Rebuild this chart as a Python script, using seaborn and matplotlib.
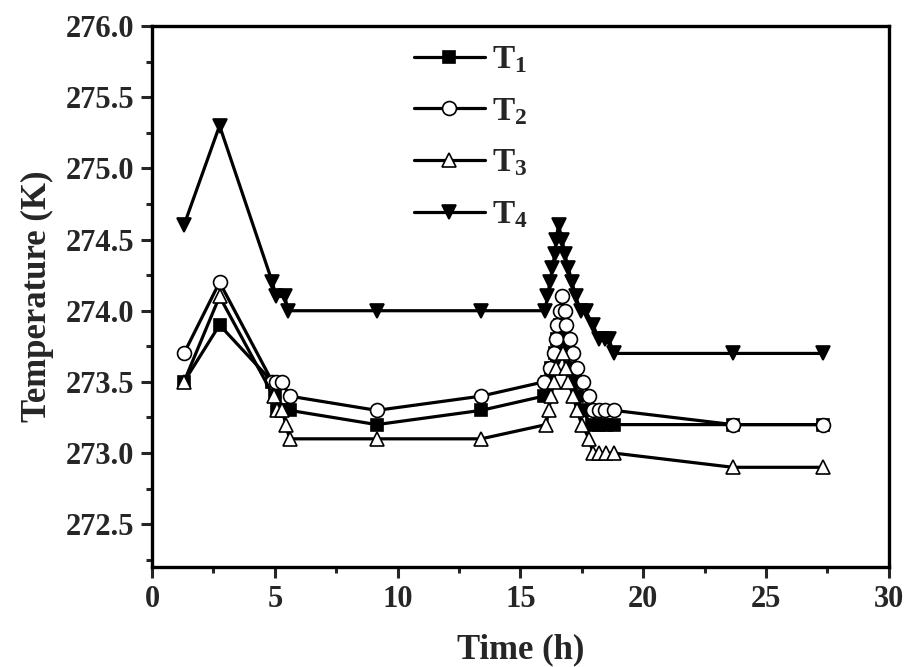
import numpy as np
import pandas as pd
import matplotlib
matplotlib.use("Agg")
import matplotlib.pyplot as plt
from matplotlib.ticker import MultipleLocator, FormatStrFormatter
import seaborn as sns

# values (time in h, temperature in K)
t1_time = [1.3, 2.75, 4.9, 5.0, 5.1, 5.3, 5.6, 9.15, 13.4, 15.95,
           16.1, 16.25, 16.4, 16.5, 16.6, 16.75, 16.9, 17.05, 17.2, 17.3,
           17.5, 17.9, 18.2, 18.5, 18.8, 23.65, 27.3]
t1_temp = [273.5, 273.9, 273.5, 273.4, 273.3, 273.3, 273.3, 273.2, 273.3, 273.4,
           273.5, 273.6, 273.7, 273.8, 273.9, 273.8, 273.7, 273.6, 273.5, 273.4,
           273.3, 273.2, 273.2, 273.2, 273.2, 273.2, 273.2]

t2_time = [1.3, 2.75, 4.9, 5.05, 5.3, 5.6, 9.15, 13.4, 15.95,
           16.2, 16.35, 16.45, 16.5, 16.6, 16.7, 16.8, 16.85, 17.0, 17.15,
           17.3, 17.55, 17.8, 17.95, 18.2, 18.45, 18.8, 23.65, 27.3]
t2_temp = [273.7, 274.2, 273.5, 273.5, 273.5, 273.4, 273.3, 273.4, 273.5,
           273.6, 273.7, 273.8, 273.9, 274.0, 274.1, 274.0, 273.9, 273.8, 273.7,
           273.6, 273.5, 273.4, 273.3, 273.3, 273.3, 273.3, 273.2, 273.2]

t3_time = [1.3, 2.75, 4.95, 5.1, 5.3, 5.45, 5.6, 9.15, 13.4, 16.05,
           16.15, 16.25, 16.35, 16.45, 16.75, 16.85, 16.95, 17.15, 17.3,
           17.5, 17.8, 17.95, 18.2, 18.5, 18.8, 23.65, 27.3]
t3_temp = [273.5, 274.1, 273.4, 273.3, 273.3, 273.2, 273.1, 273.1, 273.1, 273.2,
           273.3, 273.4, 273.5, 273.6, 273.7, 273.6, 273.5, 273.4, 273.3,
           273.2, 273.1, 273.0, 273.0, 273.0, 273.0, 272.9, 272.9]

t4_time = [1.3, 2.75, 4.9, 5.05, 5.4, 5.55, 9.15, 13.4, 16.0,
           16.1, 16.2, 16.3, 16.4, 16.45, 16.55, 16.7, 16.8, 16.95, 17.1,
           17.25, 17.45, 17.65, 17.95, 18.2, 18.45, 18.6, 18.8, 23.65, 27.3]
t4_temp = [274.6, 275.3, 274.2, 274.1, 274.1, 274.0, 274.0, 274.0, 274.0,
           274.1, 274.2, 274.3, 274.4, 274.5, 274.6, 274.5, 274.4, 274.3, 274.2,
           274.1, 274.0, 274.0, 273.9, 273.8, 273.8, 273.8, 273.7, 273.7, 273.7]

series_names = ["T1", "T2", "T3", "T4"]
legend_labels = [r"$\mathbf{T_1}$", r"$\mathbf{T_2}$", r"$\mathbf{T_3}$", r"$\mathbf{T_4}$"]

sns.set_style("ticks")
plt.rcParams["font.family"] = ["Liberation Serif", "DejaVu Serif"]
plt.rcParams["font.weight"] = "bold"
plt.rcParams["mathtext.fontset"] = "custom"
plt.rcParams["mathtext.rm"] = "Liberation Serif"
plt.rcParams["mathtext.bf"] = "Liberation Serif:bold"

frames = []
for name, tt, yy in zip(series_names,
                        [t1_time, t2_time, t3_time, t4_time],
                        [t1_temp, t2_temp, t3_temp, t4_temp]):
    frames.append(pd.DataFrame({"time": tt, "temp": yy, "series": name}))
df = pd.concat(frames, ignore_index=True)

styles = {
    "T1": dict(marker="s", markerfacecolor="black", markersize=8),
    "T2": dict(marker="o", markerfacecolor="white", markersize=10),
    "T3": dict(marker="^", markerfacecolor="white", markersize=10.5),
    "T4": dict(marker="v", markerfacecolor="black", markersize=10.5),
}

fig, ax = plt.subplots(figsize=(9.07, 6.67), dpi=100)
fig.subplots_adjust(left=0.1676, right=0.980, bottom=0.150, top=0.961)

# T4 drawn first, open symbols last (as in the reference)
for name in ["T4", "T1", "T2", "T3"]:
    sub = df[df["series"] == name]
    sns.lineplot(data=sub, x="time", y="temp", ax=ax, color="black",
                 linewidth=2.3, markeredgecolor="black", markeredgewidth=1.2,
                 estimator=None, sort=False, label=name, **styles[name])

h, l = ax.get_legend_handles_labels()
lookup = dict(zip(l, h))
ax.legend([lookup[n] for n in series_names], legend_labels,
          loc="upper left", bbox_to_anchor=(0.33, 1.0), frameon=False,
          fontsize=24, handlelength=2.15, handletextpad=0.2,
          labelspacing=0.62, borderaxespad=0.15)

ax.set_xlim(0, 30)
ax.set_ylim(272.2, 276.0)
ax.xaxis.set_major_locator(MultipleLocator(5))
ax.xaxis.set_minor_locator(MultipleLocator(2.5))
ax.yaxis.set_major_locator(MultipleLocator(0.5))
ax.yaxis.set_minor_locator(MultipleLocator(0.25))
ax.yaxis.set_major_formatter(FormatStrFormatter("%.1f"))
ax.set_yticks(np.arange(272.5, 276.01, 0.5))

ax.tick_params(axis="both", which="major", direction="out", length=8,
               width=2.2, labelsize=22, pad=5)
ax.tick_params(axis="both", which="minor", direction="out", length=4, width=2.2)
for lab in ax.get_xticklabels() + ax.get_yticklabels():
    lab.set_fontweight("bold")

for sp in ax.spines.values():
    sp.set_linewidth(2.4)
    sp.set_color("black")

ax.set_xlabel("Time (h)", fontsize=25, fontweight="bold", labelpad=14)
ax.set_ylabel("Temperature (K)", fontsize=25, fontweight="bold", labelpad=8)

fig.savefig("out.png", dpi=100)
